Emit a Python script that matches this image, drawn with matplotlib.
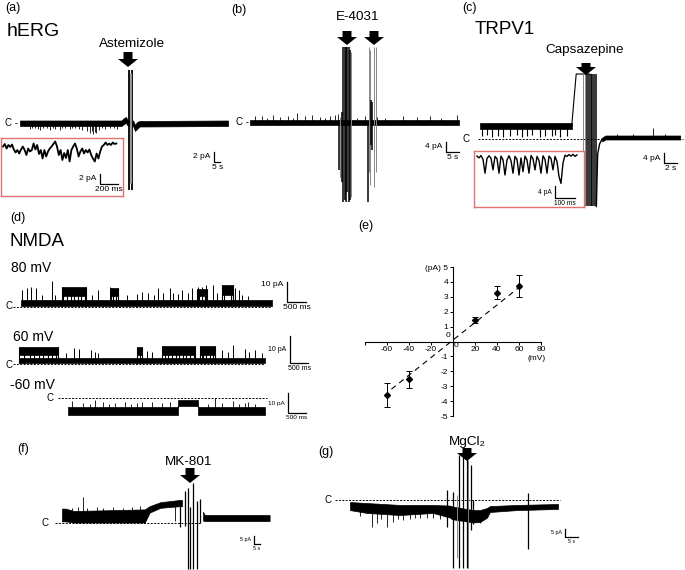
import numpy as np
import matplotlib.pyplot as plt
import matplotlib.transforms as mtransforms
from matplotlib.patches import FancyArrow

plt.rcParams['font.family'] = ['Liberation Sans', 'DejaVu Sans']
plt.rcParams['axes.unicode_minus'] = False

# ---------------- data (time: s or ms, current: pA) ----------------
# (a) hERG, main trace
a_band_t = [0, 78, 80, 81.5, 83, 87, 88.5, 90, 92, 160]
a_band_lo = [-0.6, -0.6, -0.2, 0.0, -0.6, -0.6, -1.6, -1.2, -0.7, -0.6]
a_band_hi = [0.5, 0.5, 1.0, 1.2, 0.5, 0.5, -0.4, 0.2, 0.4, 0.5]
a_spk_t = [7.7, 9.5, 11.5, 13.6, 15.4, 18.0, 20.8, 23.1, 25.0, 26.9, 30.8, 32.5, 34.6, 38.5,
           40.2, 42.3, 45.0, 47.7, 51.5, 53.8, 55.0, 56.2, 57.4, 58.5, 60.8, 63.0, 65.4,
           69.2, 72.0, 74.6]
a_spk_i = [-1.2, -0.9, -1.0, -1.1, -1.4, -0.9, -1.0, -1.3, -0.9, -1.1, -1.4, -1.0, -1.0, -1.2,
           -0.9, -1.0, -1.1, -1.3, -1.5, -2.0, -1.6, -2.2, -1.8, -2.0, -1.4, -1.0, -1.2,
           -1.0, -0.9, -1.1]
a_art_t = [83.5, 86.5]
a_art_lo = [-13.4, -13.4]
a_art_hi = [10.6, 10.6]
a_art_grey_t = [84.5, 85.5]
# (a) inset, one value every 20 ms
a_in = [0, 0.5, -0.4, 0.3, -0.1, 0.4, -0.6, -1.2, -0.7, -1.4, -0.6, 0, -0.7, -1.7, -0.4, -1.0,
        -0.7, 0.6, -0.6, 0.3, -1.5, -0.7, -2.4, -0.7, -2.0, -1.0, -0.4, 0, 0.5, 1.0, 0, -1.7,
        -0.7, -2.7, -1.3, -2.3, -0.7, -3.0, -0.7, 0, 0.6, -0.4, -2.0, -1.0, -0.4, -1.4, -0.7, -1.2,
        -0.6, -1.7, -2.4, -3.0, -1.4, -2.4, -1.0, 0, 0.3, 0.8, 0.3, 0.6, 0.3, 0.8, 0.5, 0.6]

# (b) hERG + E-4031
b_band_t = [0, 80.4]
b_band_lo = [-1.2, -1.2]
b_band_hi = [1.0, 1.0]
b_spk_t = [1.9, 4.6, 6.5, 8.8, 11.5, 14.6, 16.5, 18.1, 21.2, 23.8, 26.9, 28.8, 30.8, 32.7, 33.8,
           41.0, 44.2, 48.8, 52.0, 58.8, 64.2, 69.2, 73.5, 79.6]
b_spk_i = [2.6, 2.4, 1.8, 2.8, 2.2, 2.6, 1.8, 3.6, 2.4, 2.8, 2.2, 1.8, 2.6, 3.0, 3.2,
           1.8, 2.4, 2.0, 1.8, 2.6, 2.2, 2.4, 1.8, 3.0]
b_art_t = [34.2, 35.4, 35.9, 36.4, 36.9, 37.4, 37.9, 38.4, 45.4, 46.6, 47.0]
b_art_lo = [-19, -24, -32, -31, -32, -28, -32, -31, -32, -9, -11]
b_art_hi = [1, 4, 30, 30, 30, 30, 30, 29, 0, 9, 8]
b_art_grey_t = [34.8, 38.9, 45.9, 46.3, 47.6, 48.3]
b_art_grey_lo = [-22, -30, -20, -25, -26, -20]
b_art_grey_hi = [2, 28, 30, 29, 30, 30]

# (c) TRPV1 + capsazepine
c_band1_t = [0, 14.1]
c_band1_lo = [4.0, 4.0]
c_band1_hi = [6.4, 6.4]
c_spk_t = [0.3, 1.1, 1.8, 2.8, 3.5, 4.6, 5.7, 6.5, 7.2, 8.0, 9.2, 10.0, 11.1, 11.5, 12.3, 13.4]
c_spk_i = [1.2, 1.6, 1.0, 1.4, 0.9, 1.2, 1.5, 1.0, 1.3, 1.6, 1.0, 1.4, 1.1, 1.5, 1.0, 1.3]
c_ramp_t = [14.1, 14.8, 16.9]
c_ramp_i = [5.0, 26.0, 26.0]
c_art_t = [16.4, 16.7, 17.0, 17.3, 17.6, 17.9]
c_art_grey_t = [15.8, 16.1]
c_art_lo = -27.0
c_art_hi = 26.0
c_tail_t = [17.9, 18.1, 18.4, 18.8]
c_tail_i = [-27.0, -6.0, -2.0, 0.0]
c_band2_t = [18.8, 19.3, 30.8]
c_band2_lo = [-1.0, -0.2, -0.2]
c_band2_hi = [0.6, 1.4, 1.4]
c_spk2_t = [21.0, 23.5, 26.6, 28.4]
c_spk2_i = [2.0, 2.0, 4.4, 2.0]
# (c) inset, one value every 10 ms
c_in = [0.3, -0.3, 0.5, -0.8, -5.4, -0.5, 0.4, -0.4, -4.3, 0.2, -0.6, -5.4, 0.3, -0.9, -6.0,
        -1.0, 0.4, -1.2, -5.4, 0.2, -0.8, -6.0, -0.3, -4.9, 0.3, -1.0, -5.4, 0.5, -0.6, -4.3,
        0.2, -1.2, -5.4, 0.4, -0.8, -5.4, 0.3, -0.5, -4.3, 0.2, -1.5, -6.5, -8.8, -2.0, 0.6,
        0.2, 0.8, 0.3, 0.9, 0.2, 0.7]

# (d) NMDA single channels: closed band, open bursts (start, end, lo, hi),
#     brief closures inside bursts and brief openings outside them
d80_end, d80_lo, d80_hi = 6.53, 0.3, 3.5
d80_open_s = [1.07, 2.34, 4.58, 5.23]
d80_open_e = [1.69, 2.52, 4.84, 5.51]
d80_open_lo = [5.5, 5.5, 5.5, 6.0]
d80_open_hi = [10.0, 9.5, 9.0, 11.0]
d80_shut_t = [1.1, 1.2, 1.3, 1.38, 1.47, 1.56, 1.66, 2.38, 2.46, 4.62, 4.7, 4.78,
              5.27, 5.45, 5.5]
d80_spk_t = [0.03, 0.16, 0.26, 0.39, 0.55, 0.81, 0.88, 1.85, 2.0, 2.31, 2.76, 3.0, 3.15, 3.3,
             3.45, 3.56, 3.69, 3.87, 3.95, 4.08, 4.19, 4.34, 4.45, 4.6, 4.71, 4.81, 4.99,
             5.1, 5.56, 5.67, 5.75, 5.9]
d80_spk_i = [8.5, 9.5, 10, 9.5, 6, 13, 6, 6, 8.5, 10, 6, 6.5, 7.5, 7, 6, 9.5, 7, 9.5, 7,
             6.5, 8.5, 7, 9.5, 10, 10, 11, 11, 7, 9.5, 8.5, 6, 5.5]

d60_end, d60_lo, d60_hi = 6.84, 0.3, 2.2
d60_open_s = [0.0, 3.28, 3.98, 5.03]
d60_open_e = [1.08, 3.42, 4.89, 5.45]
d60_open_lo = [3.3, 3.3, 3.3, 3.3]
d60_open_hi = [6.3, 6.3, 6.8, 6.5]
d60_shut_t = [0.15, 0.3, 0.42, 0.55, 0.66, 0.8, 0.93, 1.03, 3.35, 4.05, 4.15, 4.25, 4.35,
              4.45, 4.55, 4.65, 4.75, 4.85, 5.1, 5.2, 5.3, 5.4]
d60_spk_t = [1.3, 1.53, 1.67, 2.0, 2.11, 2.2, 3.56, 3.7, 5.09, 5.31, 5.64, 5.8, 5.95, 6.28,
             6.4, 6.56, 6.76]
d60_spk_i = [4.0, 5.9, 5.5, 5.2, 4.4, 4.0, 5.0, 4.5, 6.7, 5.5, 5.2, 4.5, 7.0, 5.5, 4.5, 5.2,
             4.0]

dm60_end, dm60_lo, dm60_hi = 5.48, -8.5, -4.5
dm60_shut_s = [3.06]
dm60_shut_e = [3.61]
dm60_shut_lo = [-4.0]
dm60_shut_hi = [-1.2]
dm60_spk_t = [0.11, 0.42, 0.6, 0.75, 0.97, 1.15, 1.31, 1.58, 1.75, 1.92, 2.06, 2.34, 2.61,
              2.84, 3.9, 4.09, 4.28, 4.59, 4.75, 4.92, 5.0, 5.2]
dm60_spk_i = [-1.5, -2.5, -3.0, -1.0, -2.0, -3.0, -2.5, -2.0, -3.0, -2.5, -2.0, -2.0, -2.5,
              -2.0, -3.0, 0.0, -2.5, -1.5, -3.0, -2.5, -2.0, -3.0]

# (e) NMDA I-V relation
iv_v = [-60, -40, 20, 40, 60]
iv_i = [-3.6, -2.55, 1.42, 3.28, 3.7]
iv_err = [0.82, 0.58, 0.2, 0.45, 0.73]
fit_v = [-56, 59]
fit_i = [-3.2, 3.57]
iv_xticks = [-80, -60, -40, -20, 0, 20, 40, 60, 80]
iv_xlabels = ['', '-60', '-40', '-20', '', '20', '40', '60', '80']
iv_yticks = [-5, -4, -3, -2, -1, 0, 1, 2, 3, 4, 5]
iv_ylabels = ['-5', '-4', '-3', '-2', '-1', '', '1', '2', '3', '4', '(pA) 5']

# (f) NMDA + MK-801
f_band_t = [0, 3, 10, 69, 73, 82, 98, 100]
f_band_lo = [1, 1, 0.3, 0.3, 6.5, 9.5, 10.5, 10.5]
f_band_hi = [9, 9, 7.5, 8.5, 10.5, 13, 14.4, 14.4]
f_spk_t = [8.3, 13.3, 17.5, 20.8, 29.2, 34.2, 42.5, 50.8, 58.3, 65, 94]
f_spk_i = [9.5, 10, 16, 9.5, 10, 9.5, 10, 9.5, 10, 10.5, 1.0]
f_art_t = [98, 102.5, 105, 106.7, 109, 112.5, 115]
f_art_lo = [-2.5, -2, -29, -29, -29, -29, 0]
f_art_hi = [14, 20, 22, 10, 25, 14, 15]
f_band2_t = [117.5, 119, 173]
f_band2_lo = [1.5, 1.2, 1.2]
f_band2_hi = [7, 5, 5]

# (g) NMDA + MgCl2
g_band_t = [0, 6.5, 19.2, 31.9, 38.5, 39.2, 47.3, 50, 52.7, 53.8, 64.2, 80]
g_band_lo = [-6.3, -8.1, -9.4, -8.1, -11, -12, -14, -13.8, -11, -7.5, -6.3, -5.6]
g_band_hi = [-1.3, -1.9, -3.1, -3.1, -3.5, -4, -6.3, -6.3, -5, -3.8, -3.1, -2.5]
g_spk_t = [4.0, 8.5, 10.4, 12.0, 14.2, 16.5, 18.5, 20.4, 23.1, 25.0, 26.9, 29.5, 31.9, 34.6,
           37.3, 50]
g_spk_i = [-10, -17, -14.4, -12, -17, -13.8, -12, -12.5, -12, -11.5, -11, -11.5, -11, -12,
           -13.8, -14.5]
g_art_t = [37.3, 39.6, 42.0, 43.5, 45.0, 46.5, 47.3, 68.5]
g_art_lo = [-17, -42.5, -42.5, -42.5, -42.5, -19, -15, -30.6]
g_art_hi = [6, 5, 28, 27, 26, 22, 0, 4.4]
g_art_grey_t = [41.2, 45.5]
g_art_grey_lo = [-36, -42.5]
g_art_grey_hi = [3, 25]

# ---------------- figure ----------------
W, H = 685, 570
RED = '#e07272'
fig = plt.figure(figsize=(W / 100, H / 100), dpi=100)
# transform in reference pixels (y downwards)
px = mtransforms.Affine2D().scale(1 / W, -1 / H).translate(0, 1) + fig.transFigure


def label(x, y, s, size, ha='left'):
    fig.text(x, y, s, transform=px, fontsize=size, ha=ha, va='center')


def arrow(x, top, tip):
    fig.add_artist(FancyArrow(x, top, 0, tip - top, width=9, head_width=20, head_length=8,
                              length_includes_head=True, color='k', lw=0, transform=px))


def trace_ax(box, x0, y0, sx, sy):
    # box in pixels; x0/y0 pixel of time 0 / current 0; sx, sy pixels per unit
    l, t, r, b = box
    ax = fig.add_axes([l / W, 1 - b / H, (r - l) / W, (b - t) / H])
    ax.set_xlim((l - x0) / sx, (r - x0) / sx)
    ax.set_ylim((y0 - b) / sy, (y0 - t) / sy)
    ax.axis('off')
    ax.patch.set_alpha(0)
    return ax


def inset_ax(box, x0, y0, sx, sy):
    ax = trace_ax(box, x0, y0, sx, sy)
    ax.axis('on')
    ax.patch.set_alpha(1)
    ax.patch.set_facecolor('white')
    ax.set_xticks([])
    ax.set_yticks([])
    for s in ax.spines.values():
        s.set_color(RED)
        s.set_linewidth(1.0)
    return ax


def draw_band(ax, bt, blo, bhi, st=(), si=(), slw=0.6):
    ax.fill_between(bt, blo, bhi, color='k', lw=0.5)
    if len(st):
        mid = np.interp(st, bt, (np.array(blo) + np.array(bhi)) / 2)
        ax.vlines(st, mid, si, color='k', lw=slw)


def blocks(t_end, lo, hi, starts, ends, blo, bhi):
    t, l, h = [0], [lo], [hi]
    for s, e, bl, bh in zip(starts, ends, blo, bhi):
        t += [s, s, e, e]
        l += [lo, bl, bl, lo]
        h += [hi, bh, bh, hi]
    return t + [t_end], l + [lo], h + [hi]


def draw_channel(ax, end, lo, hi, os_, oe, olo, ohi, shut_t, spk_t, spk_i):
    # closed band everywhere, open bursts on top, joined by transitions
    ax.fill_between([0, end], lo, hi, color='k', lw=0.5)
    for s, e, bl, bh in zip(os_, oe, olo, ohi):
        ax.fill_between([s, e], bl, bh, color='k', lw=0.5)
        ax.vlines([s, e], lo, bh, color='k', lw=0.8)
    ax.vlines(shut_t, lo, np.interp(shut_t, [0, end], [bl, bl]) + 1, color='k', lw=0.8)
    ax.vlines(spk_t, (lo + hi) / 2, spk_i, color='k', lw=0.7)


def cline(ax, t0, t1):
    ax.plot([t0, t1], [0, 0], color='k', lw=0.7, ls=(0, (2, 1.5)), zorder=0)


def scalebar(ax, t, i, dt, di, ylab, xlab, size, yfrac=0.5):
    ax.plot([t, t, t + dt], [i + di, i, i], color='k', lw=0.9, clip_on=False)
    ax.annotate(ylab, (t, i + di * yfrac), xytext=(-2.5, 0), textcoords='offset points',
                ha='right', va='center', fontsize=size)
    ax.annotate(xlab, (t + dt / 2, i), xytext=(0, -1.2), textcoords='offset points',
                ha='center', va='top', fontsize=size)


# ---- (a) ----
ax = trace_ax((20, 60, 230, 200), 20, 123, 1.3, 5)
draw_band(ax, a_band_t, a_band_lo, a_band_hi, a_spk_t, a_spk_i)
ax.vlines(a_art_t, a_art_lo, a_art_hi, color='k', lw=1.3)
ax.vlines(a_art_grey_t, -12, 10, color='#999999', lw=0.7)
scalebar(ax, 149.2, -7.8, 5, 2, '2 pA', '5 s', 6)
ax = inset_ax((1, 138, 123, 196), 3, 146.5, 0.09, 5)
ax.plot(np.arange(len(a_in)) * 20, a_in, color='k', lw=1.3)
scalebar(ax, 1078, -7.5, 200, 2, '2 pA', '200 ms', 6)
label(5, 8, '(a)', 9)
label(7, 32, 'hERG', 14)
label(132, 44, 'Astemizole', 9.7, 'center')
arrow(128, 52, 67)
label(5, 123, 'C -', 7)

# ---- (b) ----
ax = trace_ax((250, 40, 460, 205), 250, 122, 2.6, 2.5)
draw_band(ax, b_band_t, b_band_lo, b_band_hi, b_spk_t, b_spk_i)
ax.vlines(b_art_grey_t, b_art_grey_lo, b_art_grey_hi, color='#888888', lw=0.7)
ax.vlines(b_art_t, b_art_lo, b_art_hi, color='k', lw=1.1)
scalebar(ax, 75.4, -12, 5, 4, '4 pA', '5 s', 6)
label(231, 10, '(b)', 9)
label(358, 17, 'E-4031', 9.7, 'center')
arrow(347, 31, 45)
arrow(374, 31, 45)
label(236, 122, 'C -', 7)

# ---- (c) ----
ax = trace_ax((478, 60, 684, 210), 480, 139, 6.5, 2.5)
cline(ax, -0.3, 31.2)
draw_band(ax, c_band1_t, c_band1_lo, c_band1_hi)
ax.vlines(c_spk_t, 5, c_spk_i, color='k', lw=0.8)
ax.plot(c_ramp_t, c_ramp_i, color='k', lw=0.8)
ax.vlines(c_art_grey_t, c_art_lo, c_art_hi, color='#888888', lw=0.7)
ax.vlines(c_art_t, c_art_lo, c_art_hi, color='k', lw=1.1)
ax.plot(c_tail_t, c_tail_i, color='k', lw=1.0)
draw_band(ax, c_band2_t, c_band2_lo, c_band2_hi, c_spk2_t, c_spk2_i)
scalebar(ax, 28.3, -9.6, 2, 4, '4 pA', '2 s', 6)
ax = inset_ax((474, 151, 584, 207), 477, 157, 0.2, 3)
ax.plot(np.arange(len(c_in)) * 10, c_in, color='k', lw=1.0)
scalebar(ax, 390, -13.7, 100, 4, '4 pA', '100 ms', 4.8)
label(462, 8, '(c)', 9)
label(475, 30, 'TRPV1', 13.5)
label(585, 50, 'Capsazepine', 9.7, 'center')
arrow(586, 63, 75)
label(463, 139, 'C', 7)

# ---- (d) ----
ax = trace_ax((12, 275, 312, 316), 21, 307, 38.5, 2)
cline(ax, -0.21, 6.5)
draw_channel(ax, d80_end, d80_lo, d80_hi, d80_open_s, d80_open_e, d80_open_lo, d80_open_hi,
             d80_shut_t, d80_spk_t, d80_spk_i)
scalebar(ax, 6.91, 2.5, 0.5, 10, '10 pA', '500 ms', 6, 0.85)
ax = trace_ax((12, 330, 315, 374), 19, 364, 36, 2.7)
cline(ax, -0.17, 6.8)
draw_channel(ax, d60_end, d60_lo, d60_hi, d60_open_s, d60_open_e, d60_open_lo, d60_open_hi,
             d60_shut_t, d60_spk_t, d60_spk_i)
scalebar(ax, 7.53, 0.37, 0.5, 10, '10 pA', '500 ms', 5, 0.5)
ax = trace_ax((12, 388, 315, 425), 68, 398, 36, 2)
cline(ax, -0.28, 5.53)
bt, bl, bh = blocks(dm60_end, dm60_lo, dm60_hi, dm60_shut_s, dm60_shut_e, dm60_shut_lo,
                    dm60_shut_hi)
draw_band(ax, bt, bl, bh, dm60_spk_t, dm60_spk_i)
scalebar(ax, 6.11, -7.5, 0.5, 10, '10 pA', '500 ms', 4.6, 0.45)
label(10, 218, '(d)', 9)
label(10, 241, 'NMDA', 13.5)
label(11, 268, '80 mV', 10)
label(13, 337, '60 mV', 10)
label(10, 385, '-60 mV', 10)
label(6, 306, 'C', 7)
label(6, 365, 'C', 7)
label(47, 398, 'C', 7)

# ---- (e) ----
ax = fig.add_axes([365 / W, 1 - 416 / H, (541 - 365) / W, (416 - 267) / H])
ax.patch.set_alpha(0)
ax.set_xlim(-80, 80)
ax.set_ylim(-5, 5)
for s in ['top', 'right']:
    ax.spines[s].set_visible(False)
for s in ['left', 'bottom']:
    ax.spines[s].set_position(('data', 0))
    ax.spines[s].set_linewidth(0.8)
ax.set_xticks(iv_xticks)
ax.set_xticklabels(iv_xlabels)
ax.set_yticks(iv_yticks)
ax.set_yticklabels(iv_ylabels)
ax.tick_params(length=2.5, width=0.7, labelsize=6, pad=1)
ax.plot(fit_v, fit_i, color='k', lw=0.8, dashes=(5, 4))
ax.errorbar(iv_v, iv_i, yerr=iv_err, fmt='D', color='k', ms=3, capsize=2,
            elinewidth=0.7, capthick=0.7)
ax.text(-4.5, 0.37, '0', fontsize=6, ha='center', va='center')
ax.text(2.7, -0.25, '0', fontsize=6, ha='center', va='center')
ax.text(76, -1.17, '(mV)', fontsize=6, ha='center', va='center')
label(358, 226, '(e)', 9)

# ---- (f) ----
ax = trace_ax((40, 470, 280, 570), 62, 523, 1.2, 1.6)
cline(ax, -5.8, 115)
draw_band(ax, f_band_t, f_band_lo, f_band_hi, f_spk_t, f_spk_i)
ax.vlines(f_art_t, f_art_lo, f_art_hi, color='k', lw=0.9)
draw_band(ax, f_band2_t, f_band2_lo, f_band2_hi)
scalebar(ax, 160, -13.1, 5, 5, '5 pA', '5 s', 3.8)
label(17, 449, '(f)', 9)
label(189, 462, 'MK-801', 9.7, 'center')
arrow(190, 468, 483)
label(42, 523, 'C', 7)

# ---- (g) ----
ax = trace_ax((320, 450, 600, 570), 350, 500, 2.6, 1.6)
cline(ax, -5.8, 80.8)
draw_band(ax, g_band_t, g_band_lo, g_band_hi, g_spk_t, g_spk_i)
ax.vlines(g_art_grey_t, g_art_grey_lo, g_art_grey_hi, color='#888888', lw=0.7)
ax.vlines(g_art_t, g_art_lo, g_art_hi, color='k', lw=0.9)
scalebar(ax, 82.7, -23.1, 5, 5, '5 pA', '5 s', 3.8)
label(318, 452, '(g)', 9)
label(467, 442, 'MgCl₂', 9.7, 'center')
arrow(467, 448, 461)
label(325, 500, 'C', 7)

fig.savefig('out.png', dpi=100)
